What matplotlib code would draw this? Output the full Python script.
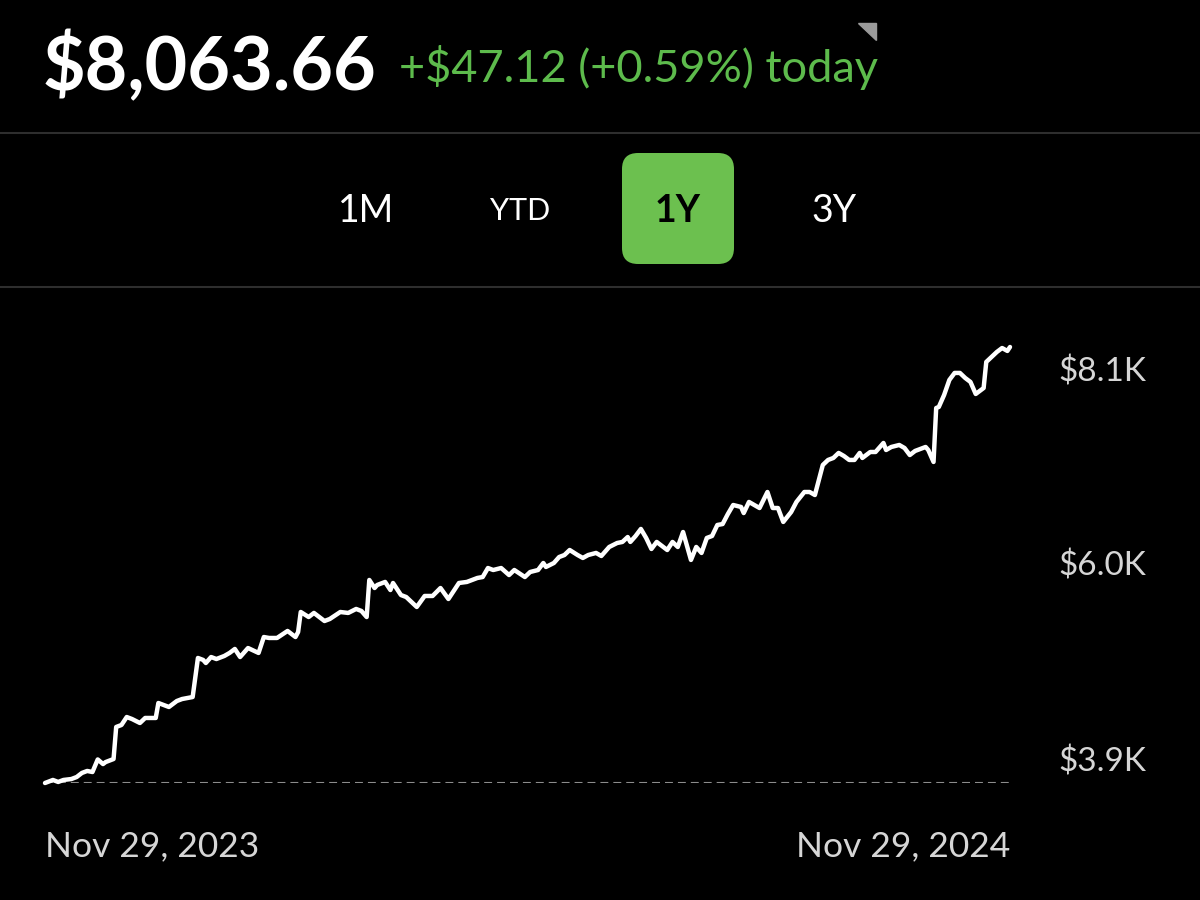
import numpy as np
import pandas as pd
import matplotlib
matplotlib.use('Agg')
import matplotlib.pyplot as plt
from matplotlib.patches import FancyBboxPatch, Polygon

plt.rcParams['font.family'] = ['Lato', 'DejaVu Sans']

# account value over the last year
start_date = '2023-11-29'
day_offsets = [
    0, 3, 5, 7, 10, 12, 14, 16, 18, 20,
    22, 23, 26, 27, 29, 31, 33, 36, 38, 42,
    43, 47, 50, 52, 56, 58, 60, 61, 63, 65,
    68, 70, 72, 74, 77, 81, 83, 85, 88, 92,
    95, 96, 97, 100, 102, 106, 108, 112, 115, 118,
    120, 122, 123, 125, 126, 129, 131, 132, 135, 137,
    141, 144, 147, 150, 153, 157, 160, 164, 166, 168,
    170, 173, 176, 178, 182, 184, 187, 189, 190, 193,
    195, 197, 199, 202, 204, 206, 209, 211, 214, 217,
    219, 221, 222, 224, 226, 228, 230, 232, 236, 238,
    240, 242, 245, 247, 249, 251, 253, 255, 257, 259,
    261, 264, 265, 267, 269, 271, 274, 276, 278, 280,
    283, 285, 288, 290, 292, 295, 297, 299, 301, 303,
    305, 307, 309, 310, 313, 315, 318, 319, 321, 324,
    326, 328, 330, 334, 335, 337, 338, 339, 341, 343,
    345, 347, 349, 351, 353, 354, 356, 357, 359, 361,
    363, 365, 366,
]
values = [
    3900, 3929, 3910, 3929, 3938, 3957, 3996, 4015, 4005, 4125,
    4081, 4100, 4129, 4435, 4454, 4530, 4511, 4473, 4521, 4521,
    4664, 4626, 4683, 4702, 4721, 5094, 5075, 5046, 5103, 5084,
    5113, 5142, 5180, 5103, 5189, 5142, 5294, 5285, 5285, 5352,
    5294, 5342, 5533, 5485, 5524, 5447, 5466, 5533, 5524, 5562,
    5543, 5485, 5839, 5762, 5791, 5820, 5743, 5810, 5695, 5676,
    5581, 5686, 5686, 5762, 5657, 5810, 5820, 5858, 5867, 5953,
    5934, 5953, 5886, 5934, 5867, 5915, 5934, 6001, 5963, 6001,
    6058, 6077, 6125, 6077, 6049, 6077, 6097, 6068, 6154, 6192,
    6202, 6249, 6202, 6259, 6326, 6240, 6135, 6202, 6125, 6202,
    6154, 6297, 6030, 6154, 6097, 6240, 6259, 6364, 6373, 6469,
    6555, 6536, 6478, 6584, 6555, 6526, 6679, 6526, 6526, 6393,
    6488, 6584, 6679, 6679, 6650, 6937, 6985, 7004, 7052, 7023,
    6985, 6985, 7052, 7004, 7061, 7061, 7147, 7080, 7109, 7128,
    7099, 7032, 7071, 7109, 7080, 6966, 7481, 7491, 7605, 7749,
    7816, 7816, 7768, 7730, 7615, 7634, 7672, 7921, 7968, 8016,
    8054, 8026, 8063.66,
]

balance = '$8,063.66'
change_text = '+$47.12 (+0.59%) today'
ranges = ['1M', 'YTD', '1Y', '3Y']
active_range = '1Y'

GREEN = '#5dbb4c'
BTN_GREEN = '#6cc04f'
LABEL = '#d6d6d6'

dates = pd.Timestamp(start_date) + pd.to_timedelta(day_offsets, unit='D')

fig = plt.figure(figsize=(12, 9), dpi=100, facecolor='black')

# overlay in pixel coords for the header / buttons
ov = fig.add_axes([0, 0, 1, 1])
ov.set_xlim(0, 1200)
ov.set_ylim(900, 0)
ov.axis('off')

ov.text(43, 90, balance, color='white', fontsize=53, fontweight='bold', va='baseline')
ov.text(399, 82, change_text, color=GREEN, fontsize=32.5, va='baseline')
ov.add_patch(Polygon([(858, 23), (876, 23), (876, 40)], closed=True, color='#9a9a9a'))

for yy in [133, 287]:
    ov.plot([0, 1200], [yy, yy], color='#2e2e2e', lw=1.5)

btn_x = [366, 520, 678, 834]
for lab, bx in zip(ranges, btn_x):
    if lab == active_range:
        ov.add_patch(FancyBboxPatch((bx - 56, 153), 112, 111,
                                    boxstyle='round,pad=0,rounding_size=16',
                                    facecolor=BTN_GREEN, edgecolor='none'))
        ov.text(bx, 211, lab, color='black', fontsize=27, fontweight='bold',
                ha='center', va='center')
    else:
        fs = 22 if lab == 'YTD' else 27
        ov.text(bx, 211, lab, color='white', fontsize=fs, ha='center', va='center')

# chart area
ax = fig.add_axes([45 / 1200, 1 - 783 / 900, 965 / 1200, 436 / 900])
ax.set_facecolor('none')
ax.axis('off')
ax.set_xlim(dates[0], dates[-1])
vmin, vmax = min(values), max(values)
ax.set_ylim(vmin, vmax)

ax.axhline(values[0], color='#8c8c8c', lw=1.5, ls=(0, (3.8, 2.4)), zorder=1)
ax.plot(dates, values, color='white', lw=3.2, solid_joinstyle='round',
        solid_capstyle='round', clip_on=False, zorder=3)

# right side value labels (max / mid / min)
vmid = (vmin + vmax) / 2
for v, dy in [(vmax, -18), (vmid, -1), (vmin, 15)]:
    ax.annotate(f'${v / 1000:.1f}K', xy=(1, v), xycoords=('axes fraction', 'data'),
                xytext=(35, dy), textcoords='offset points', va='center', ha='left',
                color=LABEL, fontsize=24, annotation_clip=False)

# date labels
ov.text(45, 856, dates[0].strftime('%b %d, %Y'), color=LABEL, fontsize=25.5,
        ha='left', va='baseline')
ov.text(1010, 856, dates[-1].strftime('%b %d, %Y'), color=LABEL, fontsize=25.5,
        ha='right', va='baseline')

fig.savefig('out.png', dpi=100, facecolor='black')
